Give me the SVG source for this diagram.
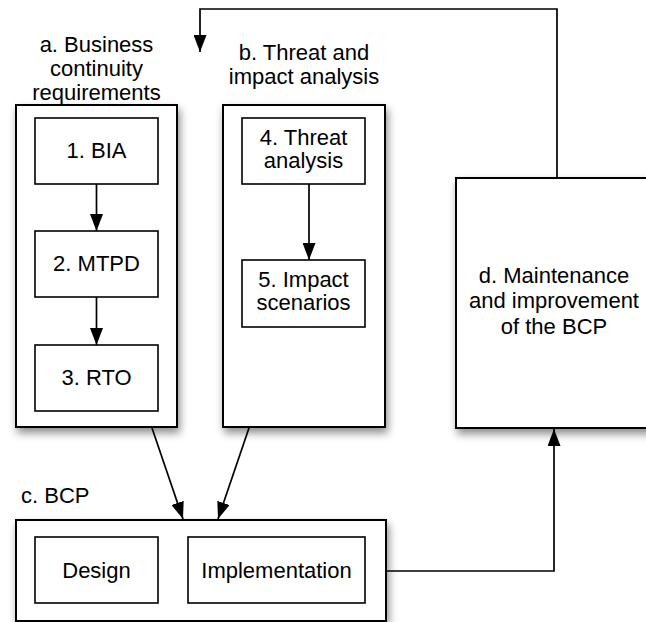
<svg xmlns="http://www.w3.org/2000/svg" width="646" height="622" viewBox="0 0 646 622">
<defs>
<style>
.cont{fill:#fff;stroke:#000;stroke-width:2;filter:url(#sh)}
.box{fill:#fff;stroke:#000;stroke-width:1.6}
.t{font-family:"Liberation Sans",Arial,Helvetica,sans-serif;font-size:22px;fill:#000;text-anchor:middle}
.ts{text-anchor:start}
.ln{fill:none;stroke:#000;stroke-width:1.7;marker-end:url(#ah)}
</style>
<filter id="sh" x="-20%" y="-20%" width="150%" height="150%">
<feDropShadow dx="2" dy="5" stdDeviation="4.5" flood-color="#000" flood-opacity="0.45"/>
</filter>
<marker id="ah" markerUnits="userSpaceOnUse" markerWidth="17" markerHeight="13" refX="17" refY="6.5" orient="auto">
<path d="M0,0 L17,6.5 L0,13 z" fill="#000"/>
</marker>
</defs>
<rect width="646" height="622" fill="#fff"/>

<g id="container-a">
<rect class="cont" x="16" y="105" width="161" height="322"/>
<text class="t" x="96.5" y="52">a. Business</text>
<text class="t" x="96.5" y="76">continuity</text>
<text class="t" x="96.5" y="100">requirements</text>
</g>
<g id="container-b">
<rect class="cont" x="223" y="105" width="162" height="322"/>
<text class="t" x="304" y="60">b. Threat and</text>
<text class="t" x="304" y="84">impact analysis</text>
</g>
<g id="node-d">
<rect class="cont" x="456" y="178" width="200" height="250"/>
<text class="t" x="554" y="283">d. Maintenance</text>
<text class="t" x="554" y="308">and improvement</text>
<text class="t" x="554" y="334">of the BCP</text>
</g>
<g id="container-c">
<rect class="cont" x="16" y="520" width="370" height="101"/>
<text class="t ts" x="21" y="503">c. BCP</text>
</g>

<g id="node-1">
<rect class="box" x="35" y="118" width="123" height="66"/>
<text class="t" x="96.5" y="158">1. BIA</text>
</g>
<g id="node-2">
<rect class="box" x="35" y="231" width="123" height="66"/>
<text class="t" x="96.5" y="271">2. MTPD</text>
</g>
<g id="node-3">
<rect class="box" x="35" y="345" width="123" height="66"/>
<text class="t" x="96.5" y="385">3. RTO</text>
</g>
<g id="node-4">
<rect class="box" x="242" y="118" width="123" height="66"/>
<text class="t" x="303.5" y="145">4. Threat</text>
<text class="t" x="303.5" y="168">analysis</text>
</g>
<g id="node-5">
<rect class="box" x="242" y="260" width="123" height="67"/>
<text class="t" x="303.5" y="287">5. Impact</text>
<text class="t" x="303.5" y="310">scenarios</text>
</g>
<g id="node-design">
<rect class="box" x="35" y="537" width="123" height="66"/>
<text class="t" x="96.5" y="578">Design</text>
</g>
<g id="node-implementation">
<rect class="box" x="188" y="537" width="177" height="66"/>
<text class="t" x="276.5" y="578">Implementation</text>
</g>

<g id="connectors">
<path class="ln" d="M96.5,184 V231"/>
<path class="ln" d="M96.5,297 V345"/>
<path class="ln" d="M309,184 V260"/>
<path class="ln" d="M152,428 L183,519"/>
<path class="ln" d="M249,428 L218,519"/>
<path class="ln" d="M386,571 H554 V429"/>
<path class="ln" d="M557,178 V9 H200 V52"/>
</g>
</svg>
